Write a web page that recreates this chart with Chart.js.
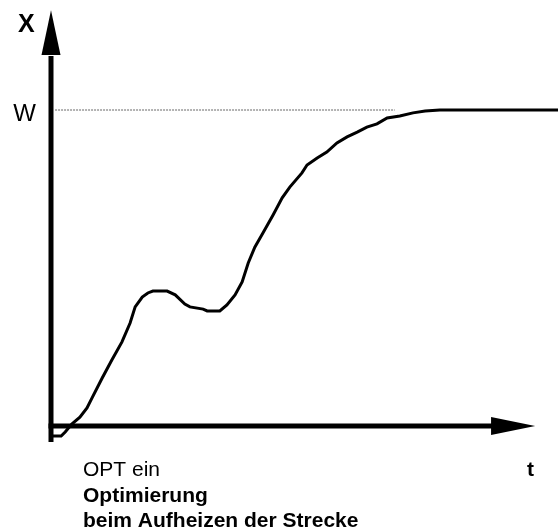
<!DOCTYPE html>
<html>
<head>
<meta charset="utf-8">
<script src="https://cdn.jsdelivr.net/npm/chart.js@4/dist/chart.umd.min.js"></script>
<style>
html,body{margin:0;padding:0;background:#fff;}
#wrap{width:558px;height:529px;position:relative;}
</style>
</head>
<body>
<div id="wrap"><canvas id="c" width="558" height="529"></canvas></div>
<script>
// ---- data (time axis 0..100, process value: setpoint W = 100) ----
const timeValues = [0, 2.0, 2.8, 4.1, 5.7, 7.1, 8.1, 10.1, 12.0, 14.0, 15.6, 16.6, 18.0, 19.1, 20.1,
  22.9, 24.5, 26.4, 27.4, 30.0, 30.8, 33.3, 34.7, 36.3, 37.7, 38.9, 40.2, 41.8, 43.8, 45.6, 47.1,
  49.5, 50.5, 52.5, 54.4, 56.4, 58.4, 60.4, 62.3, 64.3, 66.3, 68.8, 71.4, 73.8, 76.7, 100];
const processValues = [-3.2, -3.2, -1.9, 0.6, 2.8, 5.7, 8.9, 15.2, 20.9, 26.6, 32.6, 37.7, 40.8, 42.1, 42.7,
  42.7, 41.5, 38.6, 37.7, 37.0, 36.4, 36.4, 38.3, 41.5, 45.6, 51.6, 56.6, 61.1, 66.8, 72.2, 75.6,
  80.1, 82.6, 84.8, 86.7, 89.6, 91.5, 93.0, 94.6, 95.6, 97.5, 98.1, 99.1, 99.7, 100, 100];
const setpointTimes = [0.8, 67.8];
const setpointValues = [100, 100];
const axisLabels = ['X', 't'];
const setpointLabel = 'W';
const captionLines = ['OPT ein', 'Optimierung', 'beim Aufheizen der Strecke'];

const FONT = '"Liberation Sans", Arial, Helvetica, sans-serif';

const curve = timeValues.map((t, i) => ({x: t, y: processValues[i]}));
const setpoint = setpointTimes.map((t, i) => ({x: t, y: setpointValues[i]}));

const axesPlugin = {
  id: 'arrowAxes',
  afterDatasetsDraw(chart) {
    const ctx = chart.ctx;
    const xs = chart.scales.x, ys = chart.scales.y;
    const x0 = xs.getPixelForValue(0);
    const y0 = ys.getPixelForValue(0);
    ctx.save();
    ctx.fillStyle = '#000';
    ctx.strokeStyle = '#000';
    ctx.lineWidth = 5;
    ctx.lineCap = 'butt';
    // vertical axis
    const yBottom = ys.getPixelForValue(-5.06);
    const yArrowBase = ys.getPixelForValue(117.4);
    const yTip = ys.getPixelForValue(131.6);
    ctx.beginPath();
    ctx.moveTo(x0, yBottom);
    ctx.lineTo(x0, yArrowBase + 1);
    ctx.stroke();
    ctx.beginPath();
    ctx.moveTo(x0, yTip);
    ctx.lineTo(x0 + 9.5, yArrowBase);
    ctx.lineTo(x0 - 9.5, yArrowBase);
    ctx.closePath();
    ctx.fill();
    // horizontal axis
    const xArrowBase = xs.getPixelForValue(86.8);
    const xTip = xs.getPixelForValue(95.5);
    ctx.beginPath();
    ctx.moveTo(x0 - 2.5, y0);
    ctx.lineTo(xArrowBase + 1, y0);
    ctx.stroke();
    ctx.beginPath();
    ctx.moveTo(xTip, y0);
    ctx.lineTo(xArrowBase, y0 - 9);
    ctx.lineTo(xArrowBase, y0 + 9);
    ctx.closePath();
    ctx.fill();

    // labels
    ctx.textBaseline = 'alphabetic';
    ctx.textAlign = 'left';
    ctx.font = 'bold 25px ' + FONT;
    ctx.fillText(axisLabels[0], 18, 32);
    ctx.font = '24px ' + FONT;
    ctx.textAlign = 'right';
    ctx.fillText(setpointLabel, 36, ys.getPixelForValue(setpointValues[0]) + 11);
    ctx.textAlign = 'left';
    ctx.font = 'bold 21px ' + FONT;
    ctx.fillText(axisLabels[1], 527, 476);
    ctx.font = '21px ' + FONT;
    ctx.fillText(captionLines[0], 83, 476);
    ctx.font = 'bold 21px ' + FONT;
    ctx.fillText(captionLines[1], 83, 502);
    ctx.fillText(captionLines[2], 83, 527);
    ctx.restore();
  }
};

new Chart(document.getElementById('c'), {
  type: 'line',
  data: {
    datasets: [
      {
        label: 'X',
        data: curve,
        borderColor: '#000',
        borderWidth: 3,
        pointRadius: 0,
        tension: 0,
        fill: false,
        clip: false
      },
      {
        label: 'W',
        data: setpoint,
        borderColor: '#666',
        borderWidth: 1,
        borderDash: [2, 1],
        pointRadius: 0,
        fill: false,
        clip: false
      }
    ]
  },
  options: {
    responsive: false,
    animation: false,
    events: [],
    layout: {padding: {left: 51, right: 0, top: 10, bottom: 87}},
    plugins: {legend: {display: false}, tooltip: {enabled: false}, title: {display: false}},
    scales: {
      x: {type: 'linear', min: 0, max: 100, display: false},
      y: {type: 'linear', min: -5.063, max: 131.65, display: false}
    }
  },
  plugins: [axesPlugin]
});
</script>
</body>
</html>
